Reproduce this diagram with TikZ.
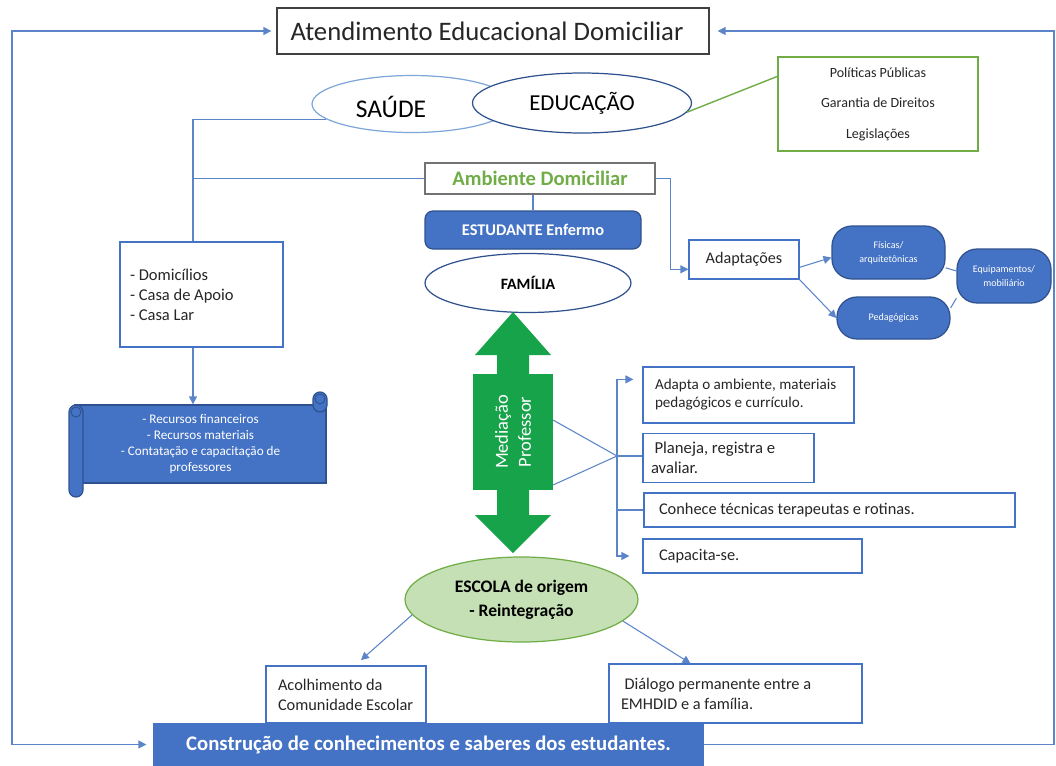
\documentclass[tikz,border=0pt]{standalone}
\usepackage{fontspec}
\setmainfont{Carlito}
\usepackage{tikz}
\usetikzlibrary{shapes.geometric}
\usetikzlibrary{arrows.meta}
\usetikzlibrary{calc}
\definecolor{linkblue}{HTML}{5B84C9}
\definecolor{boxblue}{HTML}{4472C4}
\definecolor{deepblue}{HTML}{2F528F}
\definecolor{skyblue}{HTML}{7EA6D9}
\definecolor{leafgreen}{HTML}{70AD47}
\definecolor{palegreen}{HTML}{C5E0B4}
\definecolor{arrowgreen}{HTML}{17A34A}
\tikzset{
	sz/.style 2 args={minimum width=#1*0.02cm, minimum height=#2*0.02cm},
	plainbox/.style={
		draw=boxblue,
		fill=white,
		line width=0.7pt,
		inner sep=0pt,
		text=black!85},
	bluebox/.style={
		draw=deepblue,
		fill=boxblue,
		line width=0.7pt,
		inner sep=0pt,
		text=white},
	pill/.style={
		bluebox,
		rounded corners=0.4cm,
		align=flush center,
		font=\fontsize{5.7}{8}\selectfont},
	oval/.style={
		ellipse,
		draw=deepblue,
		fill=white,
		line width=0.7pt,
		inner sep=0pt},
	link/.style={draw=linkblue, line width=0.6pt},
	>={Triangle[width=4.5pt,length=4.5pt]}
}

\begin{document}
\begin{tikzpicture}[x=0.02cm, y=-0.02cm]
	\useasboundingbox (0,0) rectangle (1056,765);
	% top and the two ellipses
	\node[plainbox, draw=black!75, sz={432}{46}, text width=8.1cm, align=flush left, font=\fontsize{15.2}{18}\selectfont] (ate) at (493,31) {Atendimento Educacional Domiciliar};
	\node[oval, draw=skyblue, fill=none, sz={200}{57}] (sau) at (412,104) {};
	\node[inner sep=0pt, font=\fontsize{14.5}{17}\selectfont] (sautxt) at (391,107) {SAÚDE};
	\node[oval, sz={219}{60}, font=\fontsize{13}{15}\selectfont] (edu) at (582,103) {EDUCAÇÃO};
	\node[plainbox, draw=leafgreen, sz={200}{94}, align=flush center, font=\fontsize{8}{10}\selectfont] (pol) at (878,104) {Políticas Públicas\\[7.3pt]Garantia de Direitos\\[7.3pt]Legislações};
	% centre column
	\node[plainbox, draw=black!55, sz={230}{31}, text=leafgreen, font=\bfseries\fontsize{11.7}{13}\selectfont] (amb) at (540,178.5) {Ambiente Domiciliar};
	\node[bluebox, rounded corners=0.16cm, sz={216}{38}, font=\bfseries\fontsize{9.3}{11}\selectfont] (est) at (533,230) {ESTUDANTE Enfermo};
	\node[oval, sz={206}{59}, font=\bfseries\fontsize{9}{11}\selectfont] (fam) at (528,283) {FAMÍLIA};
	% adaptations
	\node[plainbox, sz={110}{39}, font=\fontsize{9.2}{11}\selectfont] (adp) at (744,259.5) {Adaptações};
	\node[pill, sz={113}{53}] (fis) at (888.5,252.5) {Físicas/\\arquitetônicas};
	\node[pill, sz={113}{42}] (ped) at (893.5,318) {Pedagógicas};
	\node[pill, sz={94}{54}] (eqp) at (1004,276) {Equipamentos/\\mobiliário};
	% left column
	\node[plainbox, sz={163}{105}, text width=2.86cm, align=flush left, font=\fontsize{9.4}{11.3}\selectfont] (dom) at (201.5,294.5) {- Domicílios\\- Casa de Apoio\\- Casa Lar};
	\node[bluebox, sz={251}{78}, align=flush center, font=\fontsize{7.5}{9}\selectfont] (rec) at (200.5,444) {- Recursos financeiros\\- Recursos materiais\\- Contatação e capacitação de\\professores};
	\filldraw[fill=boxblue, draw=deepblue, line width=0.7pt, rounded corners=0.14cm] (69,405) rectangle (83,497);
	\draw[deepblue, line width=0.5pt] (76,412) circle (0.1cm);
	\filldraw[fill=boxblue, draw=deepblue, line width=0.7pt, rounded corners=0.14cm] (313,392) rectangle (327,412);
	\draw[deepblue, line width=0.5pt] (320,399) circle (0.1cm);
	% mediation arrow
	\fill[arrowgreen] (513,312) -- (551,355) -- (529,355) -- (529,515) -- (551,515) -- (513,553)
		-- (475,515) -- (497,515) -- (497,355) -- (475,355) -- cycle;
	\node[fill=arrowgreen, sz={116}{80}, inner sep=0pt, rotate=90, align=flush center, text=white, font=\fontsize{10.5}{13}\selectfont] (medi) at (513,432) {Mediação\\Professor};
	% teacher tasks
	\node[plainbox, sz={211}{56}, text width=3.74cm, align=flush left, font=\fontsize{8.6}{10.2}\selectfont] (adt) at (748.5,395) {Adapta o ambiente, materiais\\pedagógicos e currículo.};
	\node[plainbox, sz={171}{49}, text width=3.1cm, align=flush left, font=\fontsize{9.5}{11.3}\selectfont] (pla) at (728.5,458) {\hspace{2pt}Planeja, registra e\\avaliar.};
	\node[plainbox, sz={371}{34}, text width=6.82cm, align=flush left, font=\fontsize{9.3}{11}\selectfont] (tec) at (829.5,510) {Conhece técnicas terapeutas e rotinas.};
	\node[plainbox, sz={219}{34}, text width=3.74cm, align=flush left, font=\fontsize{9.3}{11}\selectfont] (cap) at (752.5,556) {Capacita-se.};
	% school and bottom
	\node[oval, draw=leafgreen, fill=palegreen, sz={233}{85}, align=flush center, font=\bfseries\fontsize{10}{13.6}\selectfont] (esc) at (521.5,599.5) {ESCOLA de origem\\- Reintegração};
	\node[plainbox, sz={160}{57}, text width=2.72cm, align=flush left, font=\fontsize{9.3}{11.3}\selectfont] (aco) at (346,694.5) {Acolhimento da\\Comunidade Escolar};
	\node[plainbox, sz={253}{59}, text width=4.58cm, align=flush left, font=\fontsize{9.3}{11.3}\selectfont] (dia) at (735.5,693.5) {\hspace{2pt}Diálogo permanente entre a\\EMHDID e a família.};
	\node[bluebox, draw=boxblue, sz={549}{41}, font=\bfseries\fontsize{11.8}{13}\selectfont] (cons) at (428.5,744.5) {Construção de conhecimentos e saberes dos estudantes.};

	\coordinate (lft) at (12,0);
	\coordinate (rgt) at (1054,0);
	\coordinate (sv) at (193,0);
	\coordinate (jn) at (617,456);

	% outer loop
	\draw[link, <->, shorten <=0.1cm, shorten >=0.14cm] (ate.west) -| (lft |- cons.west) -- (cons.west);
	\draw[link, ->, shorten >=0.16cm] (cons.east) -- (rgt |- cons.east) |- (ate.east);
	% health branch
	\draw[link] (sau.190) -- (sau.190 -| sv) -- (sv |- dom.north);
	\draw[link] (amb.west) -- (amb.west -| sv);
	\draw[link, ->] (sv |- dom.south) -- (sv |- rec.north);
	\draw[leafgreen, line width=0.8pt] (edu.-5) -- ($(pol.north west)+(0,20)$);
	% home
	\draw[link] (est.north) -- (est.north |- amb.south);
	\draw[link, ->] (amb.east) -- ++(15,0) |- (adp.190);
	\draw[link, ->] (adp.-8) -- (fis.185);
	\draw[link, ->] (adp.south east) -- (ped.west);
	\draw[link] (fis.-15) -- (eqp.174);
	\draw[link] (ped.10) -- (eqp.205);
	% teacher
	\draw[link] ($(medi.center)+(40,-12)$) -- (jn) -- ($(medi.center)+(40,53)$);
	\draw[link] (jn) -- (jn -| pla.west);
	\draw[link, ->, shorten >=0.18cm] (jn) |- ($(adt.north west)+(0,13)$);
	\draw[link, ->, shorten >=0.26cm] (jn) |- (cap.west);
	\draw[link] (jn |- tec.west) -- (tec.west);
	% school
	\draw[link, ->, shorten >=0.16cm] (esc.188) -- ($(aco.north)+(9,0)$);
	\draw[link, ->] (esc.-12) -- ($(dia.north)+(-45,0)$);
\end{tikzpicture}
\end{document}
